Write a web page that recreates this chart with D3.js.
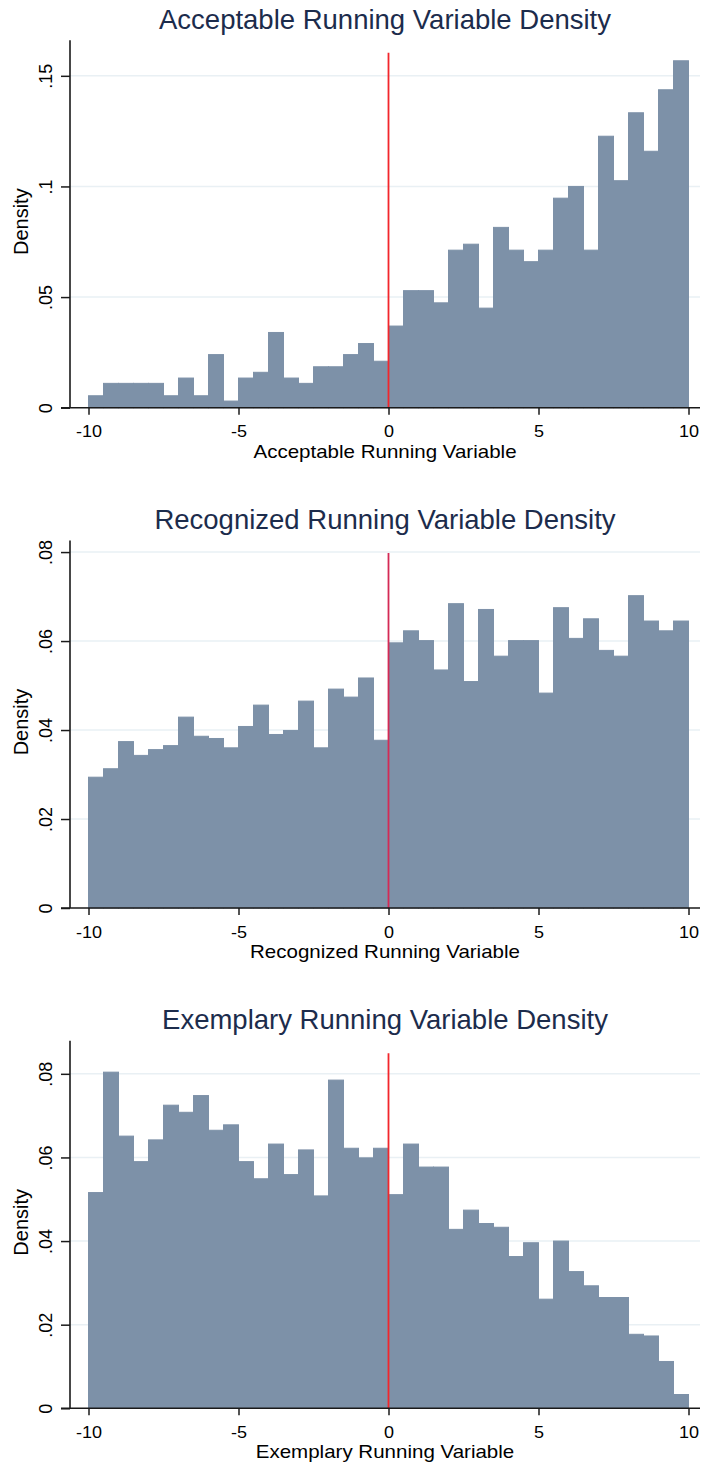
<!DOCTYPE html>
<html>
<head>
<meta charset="utf-8">
<script src="https://cdn.jsdelivr.net/npm/d3@7"></script>
<style>
  body { margin: 0; background: #fff; }
  text { font-family: "Liberation Sans", Arial, sans-serif; }
</style>
</head>
<body>
<svg id="chart" width="702" height="1464"></svg>
<script>
// bins of width 0.5 from -10 to 10
const binStarts = [-10, -9.5, -9, -8.5, -8, -7.5, -7, -6.5, -6, -5.5, -5, -4.5, -4, -3.5, -3, -2.5, -2, -1.5, -1, -0.5,
                   0, 0.5, 1, 1.5, 2, 2.5, 3, 3.5, 4, 4.5, 5, 5.5, 6, 6.5, 7, 7.5, 8, 8.5, 9, 9.5];
const binWidth = 0.5;

const acceptableDensity = [0.0054, 0.011, 0.011, 0.011, 0.011, 0.0054, 0.0134, 0.0054, 0.024, 0.003,
                           0.0134, 0.016, 0.034, 0.0134, 0.011, 0.0185, 0.0185, 0.024, 0.029, 0.021,
                           0.0369, 0.0529, 0.0529, 0.0474, 0.0712, 0.0739, 0.045, 0.0815, 0.0712, 0.066,
                           0.0712, 0.0947, 0.100, 0.0712, 0.1227, 0.1026, 0.1333, 0.1159, 0.1437, 0.1568];
const recognizedDensity = [0.0294, 0.0313, 0.0374, 0.0343, 0.0356, 0.0365, 0.0429, 0.0386, 0.0381, 0.0360,
                           0.0408, 0.0456, 0.0390, 0.0399, 0.0465, 0.0360, 0.0492, 0.0474, 0.0517, 0.0377,
                           0.0596, 0.0623, 0.0601, 0.0535, 0.0684, 0.0509, 0.0671, 0.0566, 0.0601, 0.0601,
                           0.0483, 0.0675, 0.0606, 0.0650, 0.0579, 0.0566, 0.0702, 0.0645, 0.0623, 0.0645];
const exemplaryDensity = [0.0516, 0.0804, 0.0651, 0.0590, 0.0642, 0.0725, 0.0708, 0.0748, 0.0665, 0.0678,
                          0.0590, 0.0549, 0.0632, 0.0559, 0.0618, 0.0508, 0.0785, 0.0622, 0.0599, 0.0622,
                          0.0511, 0.0632, 0.0577, 0.0577, 0.0428, 0.0474, 0.0442, 0.0433, 0.0363, 0.0396,
                          0.0261, 0.0400, 0.0327, 0.0293, 0.0265, 0.0265, 0.0177, 0.0173, 0.0112, 0.0033];

const titles = ["Acceptable Running Variable Density", "Recognized Running Variable Density", "Exemplary Running Variable Density"];
const xTitles = ["Acceptable Running Variable", "Recognized Running Variable", "Exemplary Running Variable"];
const xTicks = [-10, -5, 0, 5, 10];
const yTicksAcceptable = [0, 0.05, 0.1, 0.15];
const yTicksOther = [0, 0.02, 0.04, 0.06, 0.08];
const yMaxes = [0.1661, 0.0826, 0.0879];
const cutoff = 0;

const panels = [
    {title: titles[0], xTitle: xTitles[0], values: acceptableDensity, yTicks: yTicksAcceptable, yMax: yMaxes[0], lineColor: "#f2262c"},
    {title: titles[1], xTitle: xTitles[1], values: recognizedDensity, yTicks: yTicksOther, yMax: yMaxes[1], lineColor: "#d42a55"},
    {title: titles[2], xTitle: xTitles[2], values: exemplaryDensity, yTicks: yTicksOther, yMax: yMaxes[2], lineColor: "#f2262c"}
];

const svg = d3.select("#chart");
svg.append("rect").attr("width", 702).attr("height", 1464).attr("fill", "#fff");

const plotLeft = 70, plotRight = 700;
const plotHeight = 367.5;
const panelStep = 500.3;
const firstBottom = 407.7;
const barColor = "#7d91a8";
const gridColor = "#e9f0f4";
const axisColor = "#1a1a1a";

const x = d3.scaleLinear().domain([-10, 10]).range([88.5, 688.5]);

// stata style labels: .05 instead of 0.05
const stataFmt = d => d === 0 ? "0" : String(+d.toFixed(3)).replace(/^0\./, ".");

panels.forEach((p, i) => {
    const bottom = firstBottom + i * panelStep;
    const top = bottom - plotHeight;
    const y = d3.scaleLinear().domain([0, p.yMax]).range([bottom, top]);
    const g = svg.append("g");
    const midX = (plotLeft + plotRight) / 2;

    // title
    g.append("text")
        .attr("x", midX)
        .attr("y", bottom - 379)
        .attr("text-anchor", "middle")
        .attr("font-size", 27.5)
        .attr("fill", "#1c2c4c")
        .text(p.title);

    // grid lines
    g.selectAll(".grid")
        .data(p.yTicks.filter(d => d > 0))
        .join("line")
        .attr("class", "grid")
        .attr("x1", plotLeft).attr("x2", plotRight)
        .attr("y1", d => y(d)).attr("y2", d => y(d))
        .attr("stroke", gridColor)
        .attr("stroke-width", 1.5);

    // bars (no separators between bins, like stata)
    g.selectAll(".bar")
        .data(p.values.map((v, j) => ({start: binStarts[j], v: v})))
        .join("rect")
        .attr("class", "bar")
        .attr("x", d => x(d.start))
        .attr("width", d => x(d.start + binWidth) - x(d.start))
        .attr("y", d => y(d.v))
        .attr("height", d => bottom - y(d.v))
        .attr("fill", barColor)
        .attr("stroke", barColor)
        .attr("stroke-width", 1);

    // cutoff line
    g.append("line")
        .attr("x1", x(cutoff)).attr("x2", x(cutoff))
        .attr("y1", top + 12.5).attr("y2", bottom)
        .attr("stroke", p.lineColor)
        .attr("stroke-width", 1.8);

    // y axis
    const yAxis = g.append("g")
        .attr("transform", `translate(${plotLeft},0)`)
        .call(d3.axisLeft(y).tickValues(p.yTicks).tickSize(9).tickFormat(stataFmt));
    yAxis.select(".domain").remove();
    yAxis.selectAll(".tick line").attr("stroke", axisColor).attr("stroke-width", 1.5);
    yAxis.selectAll(".tick text")
        .attr("x", 0).attr("y", -18).attr("dy", 0)
        .attr("transform", "rotate(-90)")
        .attr("text-anchor", "middle")
        .attr("font-size", 18)
        .attr("font-family", "Liberation Sans, Arial, sans-serif")
        .attr("fill", "#000");
    g.append("line")
        .attr("x1", plotLeft).attr("x2", plotLeft)
        .attr("y1", top).attr("y2", bottom)
        .attr("stroke", axisColor).attr("stroke-width", 1.6);

    // x axis
    const xAxis = g.append("g")
        .attr("transform", `translate(0,${bottom})`)
        .call(d3.axisBottom(x).tickValues(xTicks).tickSize(7).tickFormat(d => String(d)));
    xAxis.select(".domain").remove();
    xAxis.selectAll(".tick line").attr("stroke", axisColor).attr("stroke-width", 1.5);
    xAxis.selectAll(".tick text")
        .attr("y", 29.5).attr("dy", 0)
        .attr("font-size", 17)
        .attr("font-family", "Liberation Sans, Arial, sans-serif")
        .attr("fill", "#000");
    // stretch the tick labels slightly, still centred on their ticks
    xAxis.selectAll(".tick text")
        .attr("textLength", function () { return this.getComputedTextLength() * 1.06; })
        .attr("lengthAdjust", "spacingAndGlyphs");
    g.append("line")
        .attr("x1", plotLeft - 9).attr("x2", plotRight)
        .attr("y1", bottom).attr("y2", bottom)
        .attr("stroke", axisColor).attr("stroke-width", 1.6);

    // axis titles (stretched a little wider than the font, as in the original)
    g.append("text")
        .attr("transform", `translate(${midX},${bottom + 50}) scale(1.14,1)`)
        .attr("text-anchor", "middle")
        .attr("font-size", 18)
        .attr("fill", "#000")
        .text(p.xTitle);

    g.append("text")
        .attr("transform", `translate(28,${bottom - 186}) rotate(-90)`)
        .attr("text-anchor", "middle")
        .attr("font-size", 20)
        .attr("fill", "#000")
        .text("Density");
});
</script>
</body>
</html>
